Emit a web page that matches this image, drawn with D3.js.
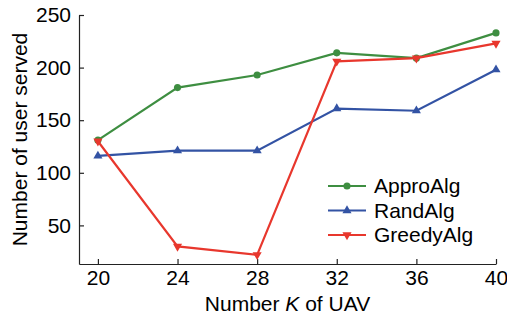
<!DOCTYPE html>
<html>
<head>
<meta charset="utf-8">
<script src="https://cdn.jsdelivr.net/npm/d3@7"></script>
<style>
  body { margin: 0; background: #fff; }
  text { font-family: "Liberation Sans", Arial, sans-serif; }
</style>
</head>
<body>
<div id="chart"></div>
<script>
// Data
const kValues = [20, 24, 28, 32, 36, 40];
const approAlg = [131, 181, 193, 214, 209, 233];
const randAlg = [116, 121, 121, 161, 159, 198];
const greedyAlg = [130, 30, 22, 206, 209, 223];
const yTicks = [50, 100, 150, 200, 250];

const series = [
  { name: "ApproAlg", values: approAlg, color: "#3e8e41", marker: "circle" },
  { name: "RandAlg", values: randAlg, color: "#3353a4", marker: "up" },
  { name: "GreedyAlg", values: greedyAlg, color: "#e8372d", marker: "down" },
];

const width = 507, height = 321;
const margin = { top: 15, right: 11, bottom: 57, left: 79 };
const fontSize = 21;

const svg = d3.select("#chart").append("svg")
  .attr("width", width)
  .attr("height", height);

const x = d3.scaleLinear()
  .domain([19.05, 40])
  .range([margin.left, width - margin.right]);

const y = d3.scaleLinear()
  .domain([13.3, 250])
  .range([height - margin.bottom, margin.top]);

// Axes (ticks point inward)
svg.append("g")
  .attr("transform", `translate(0,${height - margin.bottom})`)
  .call(d3.axisBottom(x).tickValues(kValues).tickSizeInner(-5).tickSizeOuter(0).tickPadding(6))
  .call(g => g.selectAll("text").attr("font-size", fontSize).attr("fill", "#000"))
  .call(g => g.selectAll("line, path").attr("stroke", "#222").attr("stroke-width", 1.2));

svg.append("g")
  .attr("transform", `translate(${margin.left},0)`)
  .call(d3.axisLeft(y).tickValues(yTicks).tickSizeInner(-5).tickSizeOuter(0).tickPadding(8))
  .call(g => g.selectAll("text").attr("font-size", fontSize).attr("fill", "#000"))
  .call(g => g.selectAll("line, path").attr("stroke", "#222").attr("stroke-width", 1.2));

// Lines
const line = d3.line()
  .x((d, i) => x(kValues[i]))
  .y(d => y(d));

const symbolFor = (m) => {
  if (m === "circle") return d3.symbol().type(d3.symbolCircle).size(40)();
  return d3.symbol().type(d3.symbolTriangle).size(36)();
};

series.forEach(s => {
  svg.append("path")
    .datum(s.values)
    .attr("fill", "none")
    .attr("stroke", s.color)
    .attr("stroke-width", 2.2)
    .attr("d", line);

  svg.append("g")
    .selectAll("path")
    .data(s.values)
    .join("path")
    .attr("d", symbolFor(s.marker))
    .attr("transform", (d, i) =>
      `translate(${x(kValues[i])},${y(d)})` + (s.marker === "down" ? " rotate(180)" : ""))
    .attr("fill", s.color);
});

// Legend
const legend = svg.append("g").attr("transform", "translate(328,186)");
series.forEach((s, i) => {
  const g = legend.append("g").attr("transform", `translate(0,${i * 24.5})`);
  g.append("line")
    .attr("x1", 0).attr("x2", 38)
    .attr("stroke", s.color).attr("stroke-width", 2.2);
  g.append("path")
    .attr("d", symbolFor(s.marker))
    .attr("transform", `translate(19,0)` + (s.marker === "down" ? " rotate(180)" : ""))
    .attr("fill", s.color);
  g.append("text")
    .attr("x", 46)
    .attr("dy", "0.35em")
    .attr("font-size", fontSize)
    .text(s.name);
});

// Axis titles
const xTitle = svg.append("text")
  .attr("x", (margin.left + width - margin.right) / 2)
  .attr("y", 311)
  .attr("text-anchor", "middle")
  .attr("font-size", fontSize);
xTitle.append("tspan").text("Number ");
xTitle.append("tspan").attr("font-style", "italic").text("K");
xTitle.append("tspan").text(" of UAV");

svg.append("text")
  .attr("transform", `translate(27,${(margin.top + height - margin.bottom) / 2}) rotate(-90)`)
  .attr("text-anchor", "middle")
  .attr("font-size", fontSize)
  .text("Number of user served");
</script>
</body>
</html>
